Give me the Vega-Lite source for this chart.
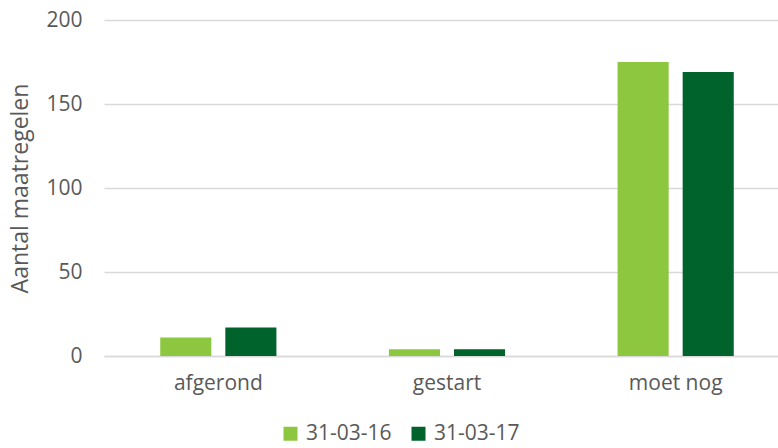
{
  "$schema": "https://vega.github.io/schema/vega-lite/v6.json",
  "width": 686,
  "height": 336,
  "autosize": {"type": "none"},
  "padding": {"left": 104, "top": 20, "right": 0, "bottom": 92},
  "background": "white",
  "config": {
    "view": {"stroke": null},
    "font": "Open Sans",
    "axis": {"labelFont": "Open Sans", "titleFont": "Open Sans"},
    "legend": {"labelFont": "Open Sans"}
  },
  "data": {
    "values": [
      {"status": "afgerond", "datum": "31-03-16", "aantal": 11},
      {"status": "afgerond", "datum": "31-03-17", "aantal": 17},
      {"status": "gestart", "datum": "31-03-16", "aantal": 4},
      {"status": "gestart", "datum": "31-03-17", "aantal": 4},
      {"status": "moet nog", "datum": "31-03-16", "aantal": 175},
      {"status": "moet nog", "datum": "31-03-17", "aantal": 169}
    ]
  },
  "mark": {"type": "bar"},
  "encoding": {
    "x": {
      "field": "status",
      "type": "nominal",
      "sort": ["afgerond", "gestart", "moet nog"],
      "scale": {"paddingInner": 0.492, "paddingOuter": 0.246},
      "axis": {
        "title": null,
        "labelAngle": 0,
        "labelFontSize": 21,
        "labelColor": "#595959",
        "labelPadding": 16,
        "ticks": false,
        "domainColor": "#d9d9d9",
        "domainWidth": 1.5
      }
    },
    "xOffset": {
      "field": "datum",
      "type": "nominal",
      "scale": {"paddingInner": 0.215, "paddingOuter": 0}
    },
    "y": {
      "field": "aantal",
      "type": "quantitative",
      "scale": {"domain": [0, 200]},
      "axis": {
        "values": [0, 50, 100, 150, 200],
        "title": "Aantal maatregelen",
        "titleFontSize": 23,
        "titleFontWeight": "normal",
        "titleColor": "#595959",
        "titlePadding": 13,
        "labelFontSize": 21,
        "labelColor": "#595959",
        "labelPadding": 22,
        "ticks": false,
        "domain": false,
        "gridColor": "#d9d9d9",
        "gridWidth": 1.5
      }
    },
    "color": {
      "field": "datum",
      "type": "nominal",
      "scale": {"domain": ["31-03-16", "31-03-17"], "range": ["#8dc63f", "#00632b"]},
      "legend": {
        "title": null,
        "orient": "none",
        "direction": "horizontal",
        "legendX": 176,
        "legendY": 403,
        "symbolType": "square",
        "symbolSize": 196,
        "symbolStrokeWidth": 0,
        "labelFontSize": 21,
        "labelColor": "#595959",
        "labelOffset": 5,
        "columnPadding": 16
      }
    }
  }
}
